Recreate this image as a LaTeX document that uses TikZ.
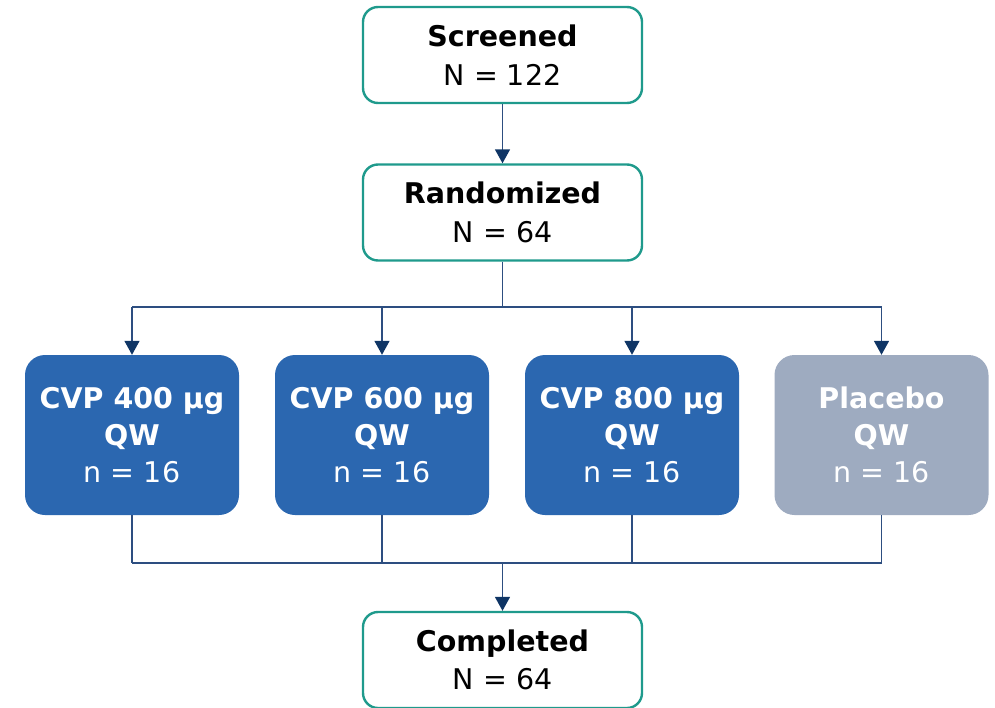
\documentclass[tikz,border=0pt]{standalone}
\usepackage{fontspec}
\setmainfont{DejaVu Sans}
\usetikzlibrary{arrows.meta}
\definecolor{teal1}{HTML}{1F9A8C}
\definecolor{blue1}{HTML}{2B67B0}
\definecolor{grey1}{HTML}{9EABC0}
\definecolor{line1}{HTML}{2D4E80}
\definecolor{tip1}{HTML}{0F3565}
\begin{document}
\begin{tikzpicture}[x=1pt,y=-1pt,
  txt/.style={align=center, inner sep=0pt},
  outline/.style={txt, font=\fontsize{28.5}{38.5}\selectfont, draw=teal1, line width=2.4pt, fill=white, rounded corners=15pt,
    minimum width=279pt, minimum height=96pt},
  arm/.style={txt, font=\fontsize{28.5}{37}\selectfont, text=white, rounded corners=20pt, minimum width=214pt, minimum height=160pt},
  conn/.style={draw=line1, line width=1.5pt},
  arr/.style={conn, -{Triangle[length=14pt,width=15pt,color=tip1,fill=tip1]}}]
\useasboundingbox (0,0) rectangle (995,707);
\node[outline] (scr) at (502.5,55) {\textbf{Screened}\\N = 122};
\node[outline] (ran) at (502.5,212.5) {\textbf{Randomized}\\N = 64};
\node[outline] (com) at (502.5,660) {\textbf{Completed}\\N = 64};
\node[arm, fill=blue1] (a1) at (132,435) {\textbf{CVP 400 µg}\\\textbf{QW}\\n = 16};
\node[arm, fill=blue1] (a2) at (382,435) {\textbf{CVP 600 µg}\\\textbf{QW}\\n = 16};
\node[arm, fill=blue1] (a3) at (632,435) {\textbf{CVP 800 µg}\\\textbf{QW}\\n = 16};
\node[arm, fill=grey1] (a4) at (881.5,435) {\textbf{Placebo}\\\textbf{QW}\\n = 16};
\coordinate (sp) at (502.5,307);
\coordinate (jn) at (502.5,563);
\draw[arr] (scr) -- (ran);
\draw[conn] (ran.south) -- (sp);
\draw[conn] (a1.north |- sp) -- (a4.north |- sp);
\foreach \a in {a1,a2,a3,a4}{
  \draw[arr] (\a.north |- sp) -- (\a.north);
  \draw[conn] (\a.south) -- (\a.south |- jn);
}
\draw[conn] (a1.south |- jn) -- (a4.south |- jn);
\draw[arr] (jn) -- (com.north);
\end{tikzpicture}
\end{document}
